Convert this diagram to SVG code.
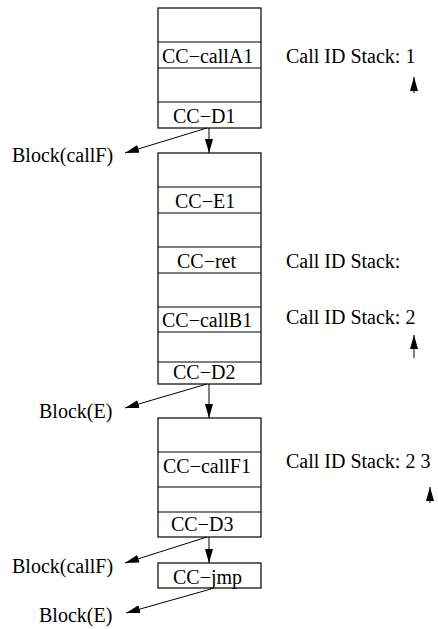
<svg xmlns="http://www.w3.org/2000/svg" width="438" height="629" viewBox="0 0 438 629">
<style>
text{font-family:"Liberation Serif","Times New Roman",serif;font-size:20px;fill:#000}
.box{fill:#fff;stroke:#000;stroke-width:1.2}
.row{stroke:#000;stroke-width:1.2;fill:none}
.c{stroke:#000;stroke-width:1;fill:none;marker-end:url(#ah)}
</style>
<defs>
<marker id="ah" markerWidth="14" markerHeight="8" refX="14" refY="4" orient="auto" markerUnits="userSpaceOnUse">
<path d="M0,0 L14,4 L0,8 Z" fill="#000"/>
</marker>
</defs>
<g id="block1">
<rect class="box" x="158" y="8" width="103" height="120"/>
<path class="row" d="M158,42H261M158,68H261M158,102H261"/>
<text x="162" y="63">CC−callA1</text>
<text x="173" y="123">CC−D1</text>
</g>
<g id="block2">
<rect class="box" x="158" y="153" width="103" height="231"/>
<path class="row" d="M158,187H261M158,213H261M158,247H261M158,273H261M158,307H261M158,332H261M158,362H261"/>
<text x="175" y="208">CC−E1</text>
<text x="177" y="268">CC−ret</text>
<text x="162" y="327">CC−callB1</text>
<text x="173" y="379">CC−D2</text>
</g>
<g id="block3">
<rect class="box" x="158" y="418" width="103" height="119"/>
<path class="row" d="M158,452H261M158,487H261M158,512H261"/>
<text x="163" y="473">CC−callF1</text>
<text x="171" y="531">CC−D3</text>
</g>
<g id="block4">
<rect class="box" x="158" y="563" width="103" height="25"/>
<text x="173" y="584">CC−jmp</text>
</g>
<g id="labels">
<text x="12" y="162">Block(callF)</text>
<text x="39" y="418">Block(E)</text>
<text x="12" y="573">Block(callF)</text>
<text x="39" y="622">Block(E)</text>
<text x="286" y="63">Call ID Stack: 1</text>
<text x="286" y="268">Call ID Stack:</text>
<text x="286" y="324">Call ID Stack: 2</text>
<text x="286" y="468">Call ID Stack: 2 3</text>
</g>
<g id="connectors">
<path class="c" d="M209,128V153"/>
<path class="c" d="M207,128L125,153"/>
<path class="c" d="M209,384V418"/>
<path class="c" d="M207,384L125,408"/>
<path class="c" d="M209,537V563"/>
<path class="c" d="M207,537L125,563"/>
<path class="c" d="M211,589L126,613"/>
<path class="c" d="M414,93V77"/>
<path class="c" d="M414,358V335"/>
<path class="c" d="M430,503V487"/>
</g>
</svg>
